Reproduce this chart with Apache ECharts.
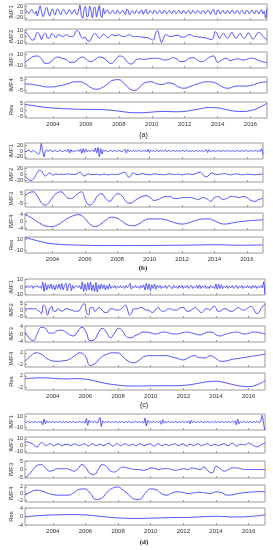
<!DOCTYPE html>
<html><head><meta charset="utf-8">
<script src="https://cdn.jsdelivr.net/npm/echarts@6/dist/echarts.min.js"></script>
<style>html,body{margin:0;padding:0;background:#fff}#c{width:273px;height:550px}</style>
</head><body><div id="c"></div>
<script>
// time span of every series (decimal years) and year tick labels
const T0 = 2002.3, T1 = 2017.0;
const YEAR_TICKS = [2004, 2006, 2008, 2010, 2012, 2014, 2016];
const ROW_NAMES = ['IMF1', 'IMF2', 'IMF3', 'IMF4', 'Res'];
const PANEL_LABELS = ['(a)', '(b)', '(c)', '(d)'];

// y-axis half ranges and tick steps for each panel (rows IMF1..Res)
const Y_LIM_A = [27, 12.5, 14, 7.5, 6.5], Y_TICK_A = [20, 10, 10, 5, 5];
const Y_LIM_B = [27, 25, 9, 5, 15],      Y_TICK_B = [20, 20, 5, 4, 10];
const Y_LIM_C = [11, 6.5, 4.2, 3, 3],    Y_TICK_C = [10, 5, 4, 2, 2];
const Y_LIM_D = [14, 13, 5.2, 2.6, 4],   Y_TICK_D = [10, 10, 5, 2, 4];

// ---- panel (a) ----
const A_IMF1 = [10,6,-2,-5,4,8,-1,-7,3,-14,4,21,
2,-16,-8,12,15,-4,-14,2,11,-3,-10,8,
10,-2,-9,3,9,1,-8,-2,8,4,-7,1,
8,-6,-9,6,23,-12,-21,10,19,-16,-14,20,
5,-20,14,16,-17,2,22,-10,-19,12,-6,4,
7,-3,-6,2,6,-4,-5,5,3,-6,1,6,
-2,-9,10,6,-10,-2,5,-4,-5,6,2,-6,
4,7,-8,2,9,-6,-4,5,-2,-6,6,3,
-6,1,6,-4,-5,5,3,-6,0,6,-3,-5,
5,3,-6,1,6,-4,-5,5,2,-6,2,6,
-4,-5,6,1,-6,3,5,-3,-6,4,4,-5,
-2,6,2,-8,4,10,-6,-9,7,5,-7,0,
6,-4,-5,5,2,-6,3,6,-4,-4,6,1,
-6,2,6,-4,-6,5,4,-6,0,7,-3,-6,
5,3,-7,2,8,-6,3,-21,11];
const A_IMF2 = [7,5,0,-5,-6,0,7,3,-5,3, 5,-3,-2,5,2,-2,3,2,0,1, 3,1,0,0,4,10,8,0,-3,-1,
-6,-8,-4,3,5,1,-3,0,4,1, -2,0,3,2,1,3,2,0,0,1, 3,2,0,0,0,0,-1,-1,-2,-2,
-3,-5,-6,4,10,0,-10,-3,3,2, 0,0,1,2,2,0,-1,-1,1,3, 3,1,0,0,-1,-1,-2,-2,-3,-4,
-5,-3,8,4,-3,2,5,0,-3,2, 7,2,-3,1,5,0,-3,1,6,2, -4,-2,4,7,5,0,-3,-5];
const A_IMF3 = [-4,1,6,7,2,-6,-5,2,5,3, 1,-4,-4,2,5,1,-3,0,5,4, -2,-6,0,7,5,-4,-7,0,2,1,
2,3,3,2,0,1,4,2,-3,-2, 3,4,0,-3,0,5,7,-4,0,3, -1,1,2,0,1,3,2,-1,-3,-5];
const A_IMF4 = [1,0.8,0,-1,-1.8,-1.8,-1,0,1.5,3, 3,1,-2.5,-4,-2.5,1,4.5,5,1.5,-3.5,
-5,-1,2.5,3,1,0.5,2,1,-2,-3, -1.5,0.5,2,3,2.8,1,-2,-3,-1.5,-1, -1,-0.5,1,2.5,3];
const A_RES = [4.5,3.5,2.5,1.8,1.3,1,0.7,0.5,0.5,0.4, 0,-0.7,-1.6,-2.2,-2.2,-1.8,-1.3,-1.2,-1.4,-1.2,
-0.2,1,2,1.8,0.5,-0.8,-1.2,-0.5,1.8,5.5];

// ---- panel (b) ----
const B_IMF1 = [0,-2,2,3,-3,-2,2,-1,-4,-6,-12,-4,
25,2,-20,0,4,-2,2,3,-2,-1,2,0,
-2,1,3,-1,-3,2,1,-2,6,-7,5,-4,
2,-2,1,3,-2,7,-8,8,-5,6,-3,2,
-2,1,3,-3,10,-6,12,-20,8,-10,4,-1,
2,-1,-2,2,1,-2,2,0,-2,2,1,-1,
-2,2,6,-7,5,-2,1,-2,2,-1,1,-2,
2,1,-2,2,-1,2,-3,5,-5,3,-1,2,
-2,1,2,-3,3,-2,2,-1,3,-3,1,2,
-2,1,2,-2,1,-1,2,-2,1,2,-2,1,
2,-2,1,-1,2,-2,1,2,-2,1,-1,2,
-2,2,5,-5,4,-2,1,-1,2,-2,1,2,
-2,1,-1,2,-2,1,2,-2,1,-1,2,-2,
1,2,-2,1,-1,2,-2,1,2,-2,1,-1,
2,-2,1,2,-3,3,-2,8,-12];
const B_IMF2 = [-5,-12,-18,-20,-16,-6,6,14,12,2, -5,0,5,1,-2,2,1,0,1,0, 1,2,1,0,0,1,4,8,2,-5,
-2,2,1,0,0,1,0,-1,0,1, 0,-1,0,1,0,0,1,3,6,8, 0,-9,-4,5,3,0,0,2,3,1,
0,-1,0,1,2,1,0,0,-1,0, 1,2,1,0,0,1,0,-1,0,1, 2,1,0,1,3,6,8,3,-4,-8,
-5,2,5,2,0,0,1,2,3,2, 0,-1,0,1,2,1,0,-1,0,1, 1,0,0,-1,0,1,1,0];
const B_IMF3 = [3,6,7,3,-4,-7,-4,2,6,7, 3,0,1,5,7,-2,-7,-4,3,5, 0,-3,2,5,3,-3,-5,-3,0,2,
3,1,-2,-1,1,2,2,0,0,1, 1,1,0,-1,1,0,-3,1,2,-1, 0,2,2,1,2,1,-2,-3,-1,0];
const B_IMF4 = [4,2.5,0.5,-1.5,-2.8,-3,-2,0,2,3.5, 4,2,-1.5,-3,-1.5,1,2.5,2,0,-2,
-2.5,-1.5,0.5,1.5,1.5,1.5,1,0,-1,-1.5, -1,0,1,1.5,1.5,0.5,-1,-1.5,-1,-0.5, 0,0.3,0.6,0.8,1];
const B_RES = [14,10,6,3,1.5,0.5,0,-0.5,-0.8,-1, -1,-1,-1,-1,-1,-1,-0.8,-0.6,-0.5,-0.4,
-0.2,0,0.3,0.5,0.3,-0.2,-0.5,-0.4,-0.1,0.2];

// ---- panel (c) ----
const C_IMF1 = [1,0,2,-1,1,2,-2,1,0,2,-1,1,
-2,7,-6,5,-4,3,-2,4,-3,2,-4,3,
-2,4,-3,5,-4,2,5,-5,3,5,-5,2,
-2,1,2,-1,2,-3,7,-6,4,-5,6,-4,
7,-5,3,-6,6,-7,3,-3,4,-2,3,-4,
2,-3,4,-2,1,-1,2,-2,1,-1,2,-1,
1,-2,2,-1,1,5,-3,1,-1,2,-1,1,
-2,2,-1,3,-4,5,-3,4,-5,3,-2,4,
-3,2,-1,2,-2,1,-1,2,-2,1,2,-1,
-2,2,-1,1,-2,2,-1,2,-2,1,-1,2,
-2,1,2,-2,1,-1,2,-2,3,-2,1,-1,
2,-2,1,-2,2,-1,1,-2,4,-3,4,-2,
3,-2,1,-1,2,-2,1,-1,2,-2,1,2,
-2,1,-1,2,-2,1,-1,2,-1,1,-2,2,
-1,2,-2,1,-1,2,-1,7,-10];
const C_IMF2 = [1,1,1,1,1,1,0,-1,-3,4, 2,-4,1,3,-1,-1,1,0,-1,0, 1,1,0,0,-1,-1,-1,1,4,5,
-2,-4,2,2,-1,0,2,1,-1,-2, -2,0,1,1,0,0,0,1,3,4, 0,-4,-2,1,1,1,2,2,1,0,
0,-1,-2,-1,1,2,0,-1,-1,0, 1,1,0,0,0,1,2,2,1,-1, -1,0,1,2,1,-1,-2,-1,1,1,
0,1,3,2,-1,-1,0,1,1,0, -1,-1,0,1,2,1,0,0,1,2, 3,2,-1,-3,-2,1,3,5];
const C_IMF3 = [1,-2,-3.5,0,3.5,3,0.5,0.5,1.8,2, 1,-0.5,-1,1.5,3.5,1,-3.5,-3,0.5,3,
1,-2,0.5,3,1.5,-1.5,-2,-1,0,1, 1,0.5,0,0.5,1,0.8,0.2,0,0.3,0.8,
1,0.5,0,-0.5,0.3,1,1,-0.5,-1,-0.3, 0.3,0.8,1,0.5,0,0.3,1,1,0.5,0];
const C_IMF4 = [-1,0.8,2,1.5,0,-0.8,-1,-0.8,-0.4,0.8, 2,1,-2.5,-1.5,0.5,1.5,2,2,0.5,-1,
-1.5,-0.5,0.8,1,1,1,1,0.5,0,-0.5, 0.3,1,0.3,0.2,1,0,-1,-0.8,-0.3,0, 0.3,0.6,0.9,1.2,1.5];
const C_RES = [1,1.2,1.3,1.2,1,0.9,1,0.9,0.5,-0.2, -0.8,-1.2,-1.5,-1.6,-1.6,-1.5,-1.5,-1.5,-1.5,-1.4,
-1.1,-0.6,-0.1,0.1,-0.3,-1,-1.6,-1.8,-1.2,0.3];

// ---- panel (d) ----
const D_IMF1 = [1,-1,1,0,-1,1,-1,1,0,-1,1,-1,
1,-5,5,-3,2,-1,1,-1,1,0,-1,1,
-1,1,0,-1,1,-1,1,0,-1,1,-1,1,
0,-1,1,-1,1,0,-1,1,-2,6,-6,3,
-1,1,-1,1,0,-2,3,8,-8,2,-1,1,
-1,1,0,-1,1,-1,1,0,-1,1,-1,1,
0,-1,1,-1,1,0,-1,1,-1,1,0,-1,
1,-1,1,-2,7,-7,3,-1,1,-1,1,0,
-1,1,-1,2,-4,4,-2,1,-1,1,0,-1,
1,-1,1,0,-1,1,-1,1,0,-1,1,-1,
2,-3,3,-1,1,0,-1,1,-1,1,0,-1,
1,-1,1,0,-1,1,-1,1,0,-1,1,-1,
1,0,-1,1,-1,1,0,-1,1,-1,2,-5,
5,-3,1,-1,1,0,-1,1,-1,1,0,-1,
1,-1,1,0,-1,3,12,-4,-15];
const D_IMF2 = [5,5,4,3,1,-2,-3,1,4,2, -1,0,2,1,-1,0,2,1,-1,0, 1,1,-1,0,2,1,-1,0,1,2,
0,-2,1,2,0,-1,1,1,-1,0, 2,3,0,-2,1,2,0,-1,1,2, 0,-1,1,1,-1,0,2,1,-1,0,
1,2,0,-2,1,2,0,-1,1,1, -1,0,1,2,0,-1,1,2,0,-2, 1,1,-1,0,2,1,-1,0,1,2,
0,-1,1,1,-1,0,1,2,0,-1, 1,3,1,-2,0,1,1,0,1,3, 2,0,-2,-3,-2,0,2,3];
const D_IMF3 = [-5,-3,0,2.5,3,1,-1,-0.5,0.5,0.5, 0.5,0,-1,0.5,3,1,-2.5,-3,0,3,
2,-1,-1.5,0,1.5,1,0.5,0,0,-0.5, 0,1,0.5,0,0.5,0.5,0,-0.5,0,0.5,
0,1,0.5,0,1.5,-1,-2,2,0.5,-1, 0,1,1,0.5,0,0,0,0,0,0];
const D_IMF4 = [-0.5,0.4,1,0.8,0.2,-0.3,-0.5,-0.5,-0.5,0.3, 1.3,1.4,0,-1.8,-1.5,0.3,1.6,2,1,-0.3,
-1.7,-1.8,0,1.4,1.2,0,-0.5,0.2,0.5,0.3, 0,0.2,0.4,0.2,0,0.5,0.3,-0.5,-0.4,0, 0.2,0.4,0.5,0.6,0.5];
const D_RES = [-0.2,0.2,0.5,0.7,0.8,0.9,0.9,0.8,0.5,0.1, -0.3,-0.6,-0.8,-0.9,-0.9,-0.8,-0.7,-0.6,-0.5,-0.5,
-0.4,-0.2,0,0.1,0,-0.2,-0.2,0,0.3,0.8];

const PANELS = [
  {series: [A_IMF1, A_IMF2, A_IMF3, A_IMF4, A_RES], lim: Y_LIM_A, tick: Y_TICK_A},
  {series: [B_IMF1, B_IMF2, B_IMF3, B_IMF4, B_RES], lim: Y_LIM_B, tick: Y_TICK_B},
  {series: [C_IMF1, C_IMF2, C_IMF3, C_IMF4, C_RES], lim: Y_LIM_C, tick: Y_TICK_C},
  {series: [D_IMF1, D_IMF2, D_IMF3, D_IMF4, D_RES], lim: Y_LIM_D, tick: Y_TICK_D}
];

// ---- layout (pixels) ----
const LAYOUT = [
  {left: 20, right: 267, rows: [[4,20],[29,44],[52,68],[77,93],[102,118]], labelY: 135},
  {left: 23, right: 263, rows: [[143,159],[167,182],[190,207],[213,230],[237,253]], labelY: 268},
  {left: 23, right: 265, rows: [[279,295],[302,318],[326,342],[350,367],[373,390]], labelY: 405},
  {left: 23, right: 265, rows: [[414,430],[437,453],[461,478],[485,502],[508,525]], labelY: 542}
];
const LINE_COLOR = '#3c3cff', BOX_COLOR = '#9a9a9a', TEXT_COLOR = '#333';
const FONT = 'Liberation Sans, Arial, sans-serif';

const grids = [], xAxes = [], yAxes = [], series = [], graphics = [];
PANELS.forEach((p, pi) => {
  const L = LAYOUT[pi];
  p.series.forEach((vals, ri) => {
    const gi = pi * 5 + ri;
    const [top, bottom] = L.rows[ri];
    grids.push({left: L.left, top: top, width: L.right - L.left, height: bottom - top,
      show: true, borderColor: BOX_COLOR, borderWidth: 1, backgroundColor: 'transparent'});
    xAxes.push({gridIndex: gi, type: 'value', min: T0, max: T1, position: 'bottom',
      axisLine: {show: false, onZero: false}, splitLine: {show: false},
      axisTick: {show: true, inside: true, length: 2, customValues: YEAR_TICKS, lineStyle: {color: BOX_COLOR}},
      axisLabel: {show: ri === 4, customValues: YEAR_TICKS, fontSize: 6, color: TEXT_COLOR, margin: 3,
        fontFamily: FONT, hideOverlap: false, formatter: v => String(v)}});
    const t = p.tick[ri], lim = p.lim[ri];
    yAxes.push({gridIndex: gi, type: 'value', min: -lim, max: lim, position: 'left',
      axisLine: {show: false, onZero: false}, splitLine: {show: false},
      axisTick: {show: true, inside: true, length: 2, customValues: [-t, 0, t], lineStyle: {color: BOX_COLOR}},
      axisLabel: {customValues: [-t, 0, t], fontSize: 5.5, lineHeight: 4, color: TEXT_COLOR, margin: 2,
        fontFamily: FONT, hideOverlap: false, showMinLabel: true, showMaxLabel: true, formatter: v => String(v)},
      name: ROW_NAMES[ri], nameLocation: 'middle', nameGap: 11, nameRotate: 90, nameMoveOverlap: false,
      nameTextStyle: {fontSize: 6, color: TEXT_COLOR, fontFamily: FONT}});
    const n = vals.length;
    series.push({type: 'line', xAxisIndex: gi, yAxisIndex: gi,
      data: vals.map((v, i) => [T0 + i * (T1 - T0) / (n - 1), v]),
      showSymbol: false, smooth: ri === 0 ? 0.2 : 0.5, clip: true, silent: true,
      lineStyle: {width: 0.9, color: LINE_COLOR}});
  });
  graphics.push({type: 'text', x: (L.left + L.right) / 2, y: L.labelY,
    style: {text: PANEL_LABELS[pi], fontSize: 7, fill: '#222', align: 'center', verticalAlign: 'middle',
      fontFamily: (pi % 2 === 1) ? 'Liberation Serif, serif' : FONT, fontWeight: (pi % 2 === 1) ? 'bold' : 'normal'}});
});

const chart = echarts.init(document.getElementById('c'), null, {renderer: 'canvas'});
chart.setOption({animation: false, grid: grids, xAxis: xAxes, yAxis: yAxes, series: series, graphic: graphics});
</script></body></html>
